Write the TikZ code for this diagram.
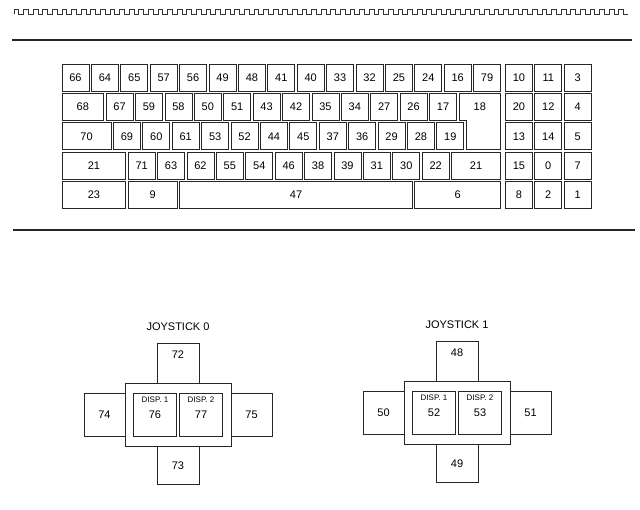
\documentclass[tikz,border=0pt]{standalone}
\usepackage{fontspec}
\setmainfont{Liberation Sans}
\usetikzlibrary{positioning}
\tikzset{
  keycap/.style={draw=black!85, line width=0.8pt, rectangle, minimum width=27pt, minimum height=27pt, inner sep=0pt, outer sep=0pt, font=\fontsize{11}{12}\selectfont},
  blankcap/.style={keycap, draw=none},
  stickbox/.style={draw=black!85, line width=0.8pt, rectangle, inner sep=0pt, outer sep=0pt, fill=white, font=\fontsize{11}{12}\selectfont},
  rule/.style={line width=1.3pt, draw=black!85},
  tag/.style={font=\fontsize{8}{9}\selectfont, inner sep=0pt},
  num/.style={font=\fontsize{11}{12}\selectfont, inner sep=0pt},
  title/.style={font=\fontsize{11}{12}\selectfont, inner sep=0pt}
}
\newcommand{\kgap}{2.4pt}
\newcommand{\kunit}{29.4}

\begin{document}
\begin{tikzpicture}[x=1pt, y=-1pt, node distance=\kgap]
  \useasboundingbox (0,0) rectangle (640,509);
  \draw[line width=0.9pt, draw=black!80] (14,14) \foreach \n in {1,...,64} { -- ++(0,-5) -- ++(4.8,0) -- ++(0,5) -- ++(4.8,0) };
  \draw[rule] (12,40) -- (632,40);
  \draw[rule] (13,230) -- (635,230);

  \foreach \row/\y/\keys in {
      1/77.5/{66/1,64/1,65/1,57/1,56/1,49/1,48/1,41/1,40/1,33/1,32/1,25/1,24/1,16/1,79/1},
      2/106.9/{68/1.5,67/1,59/1,58/1,50/1,51/1,43/1,42/1,35/1,34/1,27/1,26/1,17/1},
      3/136.3/{70/1.75,69/1,60/1,61/1,53/1,52/1,44/1,45/1,37/1,36/1,29/1,28/1,19/1},
      4/165.7/{21/2.25,71/1,63/1,62/1,55/1,54/1,46/1,38/1,39/1,31/1,30/1,22/1,21/1.75},
      5/195.1/{23/2.25,9/1.75,47/8,6/3}} {
    \coordinate (r\row-0) at (59.6,\y);
    \foreach \lab/\w [count=\i, remember=\i as \j (initially 0)] in \keys
      \node[keycap, minimum width=\w*\kunit pt-\kgap, right=of r\row-\j] (r\row-\i) {\lab};
  }
  \node[blankcap, minimum width=1.5*\kunit pt-\kgap, right=of r2-13] (k18) {18};
  \node[blankcap, minimum width=1.25*\kunit pt-\kgap, right=of r3-13] (k18b) {};
  \draw[draw=black!85, line width=0.8pt] (k18.north west) -- (k18.north east) -- (k18b.south east)
    -- (k18b.south west) -- (k18b.south west |- k18.south) -- (k18.south west) -- cycle;

  \foreach \row/\y/\keys in {1/77.5/{10,11,3}, 2/106.9/{20,12,4}, 3/136.3/{13,14,5},
      4/165.7/{15,0,7}, 5/195.1/{8,2,1}} {
    \coordinate (p\row-0) at (503,\y);
    \foreach \lab [count=\i, remember=\i as \j (initially 0)] in \keys
      \node[keycap, right=of p\row-\j] (p\row-\i) {\lab};
  }

  \foreach \s/\dx/\dy/\up/\dn/\lt/\rt/\da/\db in {0/0/0/72/73/74/75/76/77, 1/279/-2/48/49/50/51/52/53} {
    \begin{scope}[shift={(\dx,\dy)}]
      \node[stickbox, minimum width=42pt, minimum height=40pt] (j\s-up) at (178,363) {};
      \node[stickbox, minimum width=42pt, minimum height=38pt] (j\s-dn) at (178,465) {};
      \node[stickbox, minimum width=41pt, minimum height=43pt] (j\s-lt) at (104.5,414.5) {\lt};
      \node[stickbox, minimum width=41pt, minimum height=43pt] (j\s-rt) at (251.5,414.5) {\rt};
      \node[stickbox, minimum width=106pt, minimum height=63pt] (j\s-frame) at (178,414.5) {};
      \node[stickbox, minimum width=43pt, minimum height=43pt, left=1.5pt of j\s-frame.center] (j\s-da) {\da};
      \node[stickbox, minimum width=43pt, minimum height=43pt, right=1.5pt of j\s-frame.center] (j\s-db) {\db};
      \node[tag, below=4pt of j\s-da.north] (j\s-ta) {DISP. 1};
      \node[tag, below=4pt of j\s-db.north] (j\s-tb) {DISP. 2};
      \node[num, below=8pt of j\s-up.north] (j\s-nu) {\up};
      \node[num, above=14pt of j\s-dn.south] (j\s-nd) {\dn};
      \node[title, above=12pt of j\s-up.north] (j\s-title) {JOYSTICK \s};
    \end{scope}
  }
\end{tikzpicture}
\end{document}
